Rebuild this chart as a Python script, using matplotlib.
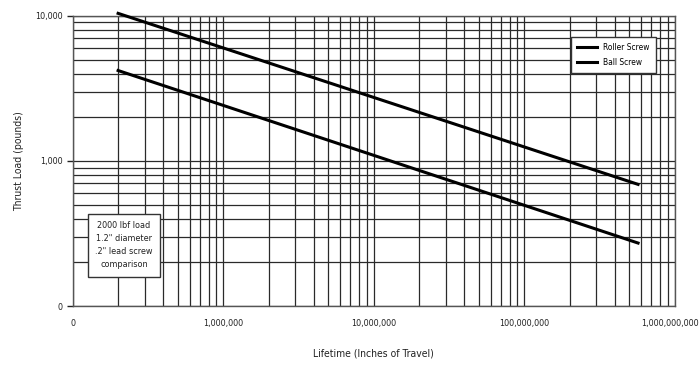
import numpy as np
import matplotlib.pyplot as plt
import matplotlib.transforms as mtransforms
from matplotlib.ticker import FixedLocator, FixedFormatter, LogLocator, NullFormatter

plt.rcParams['font.family'] = ['DejaVu Sans']
plt.rcParams['font.stretch'] = 'condensed'

# lifetime (inches of travel) at the line ends
life = [2e5, 5.7e8]
roller_load = [10400, 690]
ball_load = [4200, 272]

x_ticks = [1e5, 1e6, 1e7, 1e8, 1e9]
x_labels = ['0', '1,000,000', '10,000,000', '100,000,000', '1,000,000,000']
y_ticks = [100, 1000, 10000]
y_labels = ['0', '1,000', '10,000']

fig = plt.figure(figsize=(7, 3.77), dpi=100)
ax = fig.add_axes([0.104, 0.188, 0.86, 0.77])

ax.plot(life, roller_load, color='black', lw=2.2, label='Roller Screw', zorder=3, clip_on=False)
ax.plot(life, ball_load, color='black', lw=2.2, label='Ball Screw', zorder=3, clip_on=False)

ax.set_xscale('log')
ax.set_yscale('log')
ax.set_xlim(1e5, 1e9)
ax.set_ylim(100, 10000)

ax.xaxis.set_major_locator(FixedLocator(x_ticks))
ax.xaxis.set_major_formatter(FixedFormatter(x_labels))
ax.yaxis.set_major_locator(FixedLocator(y_ticks))
ax.yaxis.set_major_formatter(FixedFormatter(y_labels))
ax.xaxis.set_minor_locator(LogLocator(base=10, subs=np.arange(2, 10)))
ax.yaxis.set_minor_locator(LogLocator(base=10, subs=np.arange(2, 10)))
ax.xaxis.set_minor_formatter(NullFormatter())
ax.yaxis.set_minor_formatter(NullFormatter())

ax.grid(True, which='both', color='#2a2a2a', lw=0.9)
ax.tick_params(which='minor', length=0)
ax.tick_params(which='major', length=4, width=1, labelsize=6.5, colors='#222222')
ax.tick_params(axis='x', which='major', length=0, pad=9)
for s in ax.spines.values():
    s.set_color('#555555')
    s.set_linewidth(1)

# last x label sits at the right edge of the picture
last = ax.get_xticklabels()[-1]
last.set_horizontalalignment('right')
last.set_transform(last.get_transform() + mtransforms.ScaledTranslation(24 / 100, 0, fig.dpi_scale_trans))

ax.set_xlabel('Lifetime (Inches of Travel)', fontsize=7.5, labelpad=15, color='#222222')
ax.set_ylabel('Thrust Load (pounds)', fontsize=7.5, labelpad=8, color='#222222')

leg = ax.legend(loc='upper right', bbox_to_anchor=(0.975, 0.94), fontsize=6,
                frameon=True, fancybox=False, edgecolor='#333333', framealpha=1,
                handlelength=2.4, borderpad=0.7, labelspacing=0.7)
leg.get_frame().set_linewidth(1)

ax.text(0.085, 0.21, '2000 lbf load\n1.2" diameter\n.2" lead screw\ncomparison',
        transform=ax.transAxes, ha='center', va='center', fontsize=6.5,
        color='#222222', linespacing=1.6,
        bbox=dict(boxstyle='square,pad=0.8', fc='white', ec='#333333', lw=1),
        zorder=4)

fig.savefig('out.png', dpi=100)
